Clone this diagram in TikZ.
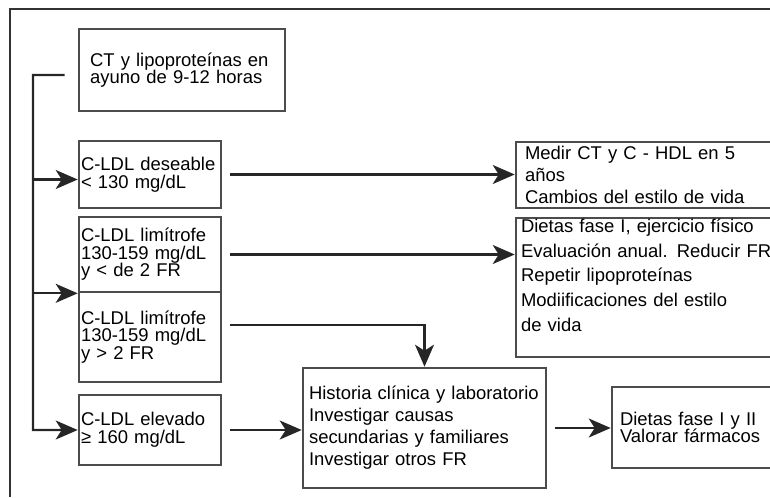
\documentclass[tikz,border=0pt]{standalone}
\usepackage{fontspec}
\setmainfont{Liberation Sans}
\usetikzlibrary{arrows.meta}
\tikzset{
  box/.style={draw=black!70, line width=1.5pt, inner ysep=0pt, inner xsep=0.04cm, align=left, font=\fontsize{10.5}{10}\selectfont},
  flow/.style={draw=black!85, line width=1.3pt, shorten <=0.16cm, -{Stealth[length=0.44cm,width=0.38cm,inset=0.12cm]}},
}
\begin{document}
\begin{tikzpicture}[x=0.02cm,y=-0.02cm]
  \useasboundingbox (0,0) rectangle (770,497);
  \clip (0,0) rectangle (770,497);
  % frame
  \draw[black!80, line width=0.9pt] (10,497) -- (10,9) -- (770,9);

  % start
  \node[box, minimum width=4.12cm, minimum height=1.64cm, inner xsep=0.22cm, text width=3.68cm] (ct) at (182,70) {CT y lipoproteínas en\\ayuno de 9-12 horas};

  % column1
  \node[box, minimum width=2.84cm, minimum height=1.34cm, text width=2.76cm] (des) at (150,174.5) {C-LDL deseable\\< 130 mg/dL};
  \node[box, minimum width=2.84cm, minimum height=1.5cm, text width=2.76cm] (lim1) at (150,254.5) {C-LDL limítrofe\\130-159 mg/dL\\y < de 2 FR};
  \node[box, minimum width=2.84cm, minimum height=1.8cm, text width=2.76cm] (lim2) at (150,337) {C-LDL limítrofe\\130-159 mg/dL\\y > 2 FR};
  \node[box, minimum width=2.84cm, minimum height=1.4cm, text width=2.76cm] (elev) at (150,430) {C-LDL elevado\\≥ 160 mg/dL};

  % column2
  \node[box, minimum width=4.86cm, minimum height=2.4cm, inner xsep=0.12cm, text width=4.62cm, font=\fontsize{10.5}{12.5}\selectfont] (hist) at (424.5,428) {Historia clínica y laboratorio\\Investigar causas\\secundarias y familiares\\Investigar otros FR};

  % column3
  \node[box, minimum width=5.48cm, minimum height=1.32cm, inner xsep=0.18cm, text width=5.12cm, font=\fontsize{10.5}{12.5}\selectfont] (medir) at (653,175) {Medir CT y C - HDL en 5\\años\\Cambios del estilo de vida};
  \node[box, minimum width=5.48cm, minimum height=2.78cm, inner xsep=0.1cm, text width=5.28cm, font=\fontsize{10.5}{14}\selectfont] (diet) at (653,287.5) {Dietas fase I, ejercicio físico\\Evaluación anual. Reducir FR\\Repetir lipoproteínas\\Modiificaciones del estilo\\de vida\\\mbox{}};
  \node[box, minimum width=3.56cm, minimum height=1.62cm, inner xsep=0.16cm, text width=3.24cm] (farm) at (701,427.5) {Dietas fase I y II\\Valorar fármacos};

  % bus
  \coordinate (ctout) at ([yshift=-0.1cm]ct.west);
  \coordinate (bus) at (33,75);
  \coordinate (desin) at ([yshift=-0.1cm]des.west);
  \draw[flow, shorten <=0.26cm] (ctout) -- (bus) |- (elev.west);
  \draw[flow, shorten <=0pt] (desin -| bus) -- (desin);
  \draw[flow, shorten <=0pt] (lim1.south west -| bus) -- (lim1.south west);

  % arrows
  \coordinate (limout) at ([yshift=0.24cm]lim2.east);
  \draw[flow] (des.east) -- (des.east -| medir.west);
  \draw[flow] (lim1.east) -- (lim1.east -| diet.west);
  \draw[flow] (limout) -| (hist.north);
  \draw[flow] (elev.east) -- (elev.east -| hist.west);
  \draw[flow] (hist.east) -- (hist.east -| farm.west);
\end{tikzpicture}
\end{document}
